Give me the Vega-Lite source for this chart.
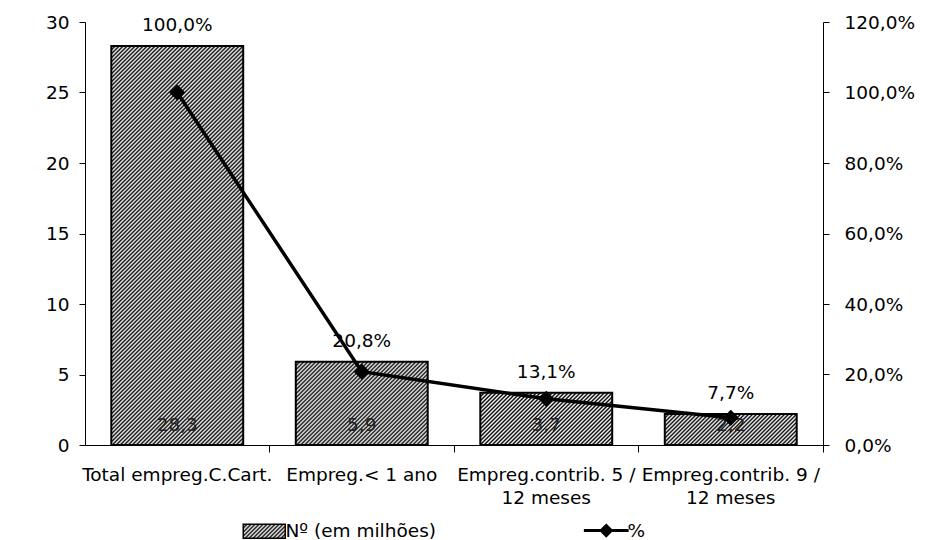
{
"$schema": "https://vega.github.io/schema/vega-lite/v6.json",
"width": 738, "height": 423,
"padding": {"left": 85, "top": 22, "right": 108, "bottom": 95},
"autosize": {"type": "none"},
"background": "white",
"params": [{"name": "hatch", "value": [
{"offset":0,"color":"#000"},{"offset":0.0025,"color":"#fff"},{"offset":0.005,"color":"#000"},{"offset":0.0075,"color":"#fff"},
{"offset":0.01,"color":"#000"},{"offset":0.0125,"color":"#fff"},{"offset":0.015,"color":"#000"},{"offset":0.0175,"color":"#fff"},
{"offset":0.02,"color":"#000"},{"offset":0.0225,"color":"#fff"},{"offset":0.025,"color":"#000"},{"offset":0.0275,"color":"#fff"},
{"offset":0.03,"color":"#000"},{"offset":0.0325,"color":"#fff"},{"offset":0.035,"color":"#000"},{"offset":0.0375,"color":"#fff"},
{"offset":0.04,"color":"#000"},{"offset":0.0425,"color":"#fff"},{"offset":0.045,"color":"#000"},{"offset":0.0475,"color":"#fff"},
{"offset":0.05,"color":"#000"},{"offset":0.0525,"color":"#fff"},{"offset":0.055,"color":"#000"},{"offset":0.0575,"color":"#fff"},
{"offset":0.06,"color":"#000"},{"offset":0.0625,"color":"#fff"},{"offset":0.065,"color":"#000"},{"offset":0.0675,"color":"#fff"},
{"offset":0.07,"color":"#000"},{"offset":0.0725,"color":"#fff"},{"offset":0.075,"color":"#000"},{"offset":0.0775,"color":"#fff"},
{"offset":0.08,"color":"#000"},{"offset":0.0825,"color":"#fff"},{"offset":0.085,"color":"#000"},{"offset":0.0875,"color":"#fff"},
{"offset":0.09,"color":"#000"},{"offset":0.0925,"color":"#fff"},{"offset":0.095,"color":"#000"},{"offset":0.0975,"color":"#fff"},
{"offset":0.1,"color":"#000"},{"offset":0.1025,"color":"#fff"},{"offset":0.105,"color":"#000"},{"offset":0.1075,"color":"#fff"},
{"offset":0.11,"color":"#000"},{"offset":0.1125,"color":"#fff"},{"offset":0.115,"color":"#000"},{"offset":0.1175,"color":"#fff"},
{"offset":0.12,"color":"#000"},{"offset":0.1225,"color":"#fff"},{"offset":0.125,"color":"#000"},{"offset":0.1275,"color":"#fff"},
{"offset":0.13,"color":"#000"},{"offset":0.1325,"color":"#fff"},{"offset":0.135,"color":"#000"},{"offset":0.1375,"color":"#fff"},
{"offset":0.14,"color":"#000"},{"offset":0.1425,"color":"#fff"},{"offset":0.145,"color":"#000"},{"offset":0.1475,"color":"#fff"},
{"offset":0.15,"color":"#000"},{"offset":0.1525,"color":"#fff"},{"offset":0.155,"color":"#000"},{"offset":0.1575,"color":"#fff"},
{"offset":0.16,"color":"#000"},{"offset":0.1625,"color":"#fff"},{"offset":0.165,"color":"#000"},{"offset":0.1675,"color":"#fff"},
{"offset":0.17,"color":"#000"},{"offset":0.1725,"color":"#fff"},{"offset":0.175,"color":"#000"},{"offset":0.1775,"color":"#fff"},
{"offset":0.18,"color":"#000"},{"offset":0.1825,"color":"#fff"},{"offset":0.185,"color":"#000"},{"offset":0.1875,"color":"#fff"},
{"offset":0.19,"color":"#000"},{"offset":0.1925,"color":"#fff"},{"offset":0.195,"color":"#000"},{"offset":0.1975,"color":"#fff"},
{"offset":0.2,"color":"#000"},{"offset":0.2025,"color":"#fff"},{"offset":0.205,"color":"#000"},{"offset":0.2075,"color":"#fff"},
{"offset":0.21,"color":"#000"},{"offset":0.2125,"color":"#fff"},{"offset":0.215,"color":"#000"},{"offset":0.2175,"color":"#fff"},
{"offset":0.22,"color":"#000"},{"offset":0.2225,"color":"#fff"},{"offset":0.225,"color":"#000"},{"offset":0.2275,"color":"#fff"},
{"offset":0.23,"color":"#000"},{"offset":0.2325,"color":"#fff"},{"offset":0.235,"color":"#000"},{"offset":0.2375,"color":"#fff"},
{"offset":0.24,"color":"#000"},{"offset":0.2425,"color":"#fff"},{"offset":0.245,"color":"#000"},{"offset":0.2475,"color":"#fff"},
{"offset":0.25,"color":"#000"},{"offset":0.2525,"color":"#fff"},{"offset":0.255,"color":"#000"},{"offset":0.2575,"color":"#fff"},
{"offset":0.26,"color":"#000"},{"offset":0.2625,"color":"#fff"},{"offset":0.265,"color":"#000"},{"offset":0.2675,"color":"#fff"},
{"offset":0.27,"color":"#000"},{"offset":0.2725,"color":"#fff"},{"offset":0.275,"color":"#000"},{"offset":0.2775,"color":"#fff"},
{"offset":0.28,"color":"#000"},{"offset":0.2825,"color":"#fff"},{"offset":0.285,"color":"#000"},{"offset":0.2875,"color":"#fff"},
{"offset":0.29,"color":"#000"},{"offset":0.2925,"color":"#fff"},{"offset":0.295,"color":"#000"},{"offset":0.2975,"color":"#fff"},
{"offset":0.3,"color":"#000"},{"offset":0.3025,"color":"#fff"},{"offset":0.305,"color":"#000"},{"offset":0.3075,"color":"#fff"},
{"offset":0.31,"color":"#000"},{"offset":0.3125,"color":"#fff"},{"offset":0.315,"color":"#000"},{"offset":0.3175,"color":"#fff"},
{"offset":0.32,"color":"#000"},{"offset":0.3225,"color":"#fff"},{"offset":0.325,"color":"#000"},{"offset":0.3275,"color":"#fff"},
{"offset":0.33,"color":"#000"},{"offset":0.3325,"color":"#fff"},{"offset":0.335,"color":"#000"},{"offset":0.3375,"color":"#fff"},
{"offset":0.34,"color":"#000"},{"offset":0.3425,"color":"#fff"},{"offset":0.345,"color":"#000"},{"offset":0.3475,"color":"#fff"},
{"offset":0.35,"color":"#000"},{"offset":0.3525,"color":"#fff"},{"offset":0.355,"color":"#000"},{"offset":0.3575,"color":"#fff"},
{"offset":0.36,"color":"#000"},{"offset":0.3625,"color":"#fff"},{"offset":0.365,"color":"#000"},{"offset":0.3675,"color":"#fff"},
{"offset":0.37,"color":"#000"},{"offset":0.3725,"color":"#fff"},{"offset":0.375,"color":"#000"},{"offset":0.3775,"color":"#fff"},
{"offset":0.38,"color":"#000"},{"offset":0.3825,"color":"#fff"},{"offset":0.385,"color":"#000"},{"offset":0.3875,"color":"#fff"},
{"offset":0.39,"color":"#000"},{"offset":0.3925,"color":"#fff"},{"offset":0.395,"color":"#000"},{"offset":0.3975,"color":"#fff"},
{"offset":0.4,"color":"#000"},{"offset":0.4025,"color":"#fff"},{"offset":0.405,"color":"#000"},{"offset":0.4075,"color":"#fff"},
{"offset":0.41,"color":"#000"},{"offset":0.4125,"color":"#fff"},{"offset":0.415,"color":"#000"},{"offset":0.4175,"color":"#fff"},
{"offset":0.42,"color":"#000"},{"offset":0.4225,"color":"#fff"},{"offset":0.425,"color":"#000"},{"offset":0.4275,"color":"#fff"},
{"offset":0.43,"color":"#000"},{"offset":0.4325,"color":"#fff"},{"offset":0.435,"color":"#000"},{"offset":0.4375,"color":"#fff"},
{"offset":0.44,"color":"#000"},{"offset":0.4425,"color":"#fff"},{"offset":0.445,"color":"#000"},{"offset":0.4475,"color":"#fff"},
{"offset":0.45,"color":"#000"},{"offset":0.4525,"color":"#fff"},{"offset":0.455,"color":"#000"},{"offset":0.4575,"color":"#fff"},
{"offset":0.46,"color":"#000"},{"offset":0.4625,"color":"#fff"},{"offset":0.465,"color":"#000"},{"offset":0.4675,"color":"#fff"},
{"offset":0.47,"color":"#000"},{"offset":0.4725,"color":"#fff"},{"offset":0.475,"color":"#000"},{"offset":0.4775,"color":"#fff"},
{"offset":0.48,"color":"#000"},{"offset":0.4825,"color":"#fff"},{"offset":0.485,"color":"#000"},{"offset":0.4875,"color":"#fff"},
{"offset":0.49,"color":"#000"},{"offset":0.4925,"color":"#fff"},{"offset":0.495,"color":"#000"},{"offset":0.4975,"color":"#fff"},
{"offset":0.5,"color":"#000"},{"offset":0.5025,"color":"#fff"},{"offset":0.505,"color":"#000"},{"offset":0.5075,"color":"#fff"},
{"offset":0.51,"color":"#000"},{"offset":0.5125,"color":"#fff"},{"offset":0.515,"color":"#000"},{"offset":0.5175,"color":"#fff"},
{"offset":0.52,"color":"#000"},{"offset":0.5225,"color":"#fff"},{"offset":0.525,"color":"#000"},{"offset":0.5275,"color":"#fff"},
{"offset":0.53,"color":"#000"},{"offset":0.5325,"color":"#fff"},{"offset":0.535,"color":"#000"},{"offset":0.5375,"color":"#fff"},
{"offset":0.54,"color":"#000"},{"offset":0.5425,"color":"#fff"},{"offset":0.545,"color":"#000"},{"offset":0.5475,"color":"#fff"},
{"offset":0.55,"color":"#000"},{"offset":0.5525,"color":"#fff"},{"offset":0.555,"color":"#000"},{"offset":0.5575,"color":"#fff"},
{"offset":0.56,"color":"#000"},{"offset":0.5625,"color":"#fff"},{"offset":0.565,"color":"#000"},{"offset":0.5675,"color":"#fff"},
{"offset":0.57,"color":"#000"},{"offset":0.5725,"color":"#fff"},{"offset":0.575,"color":"#000"},{"offset":0.5775,"color":"#fff"},
{"offset":0.58,"color":"#000"},{"offset":0.5825,"color":"#fff"},{"offset":0.585,"color":"#000"},{"offset":0.5875,"color":"#fff"},
{"offset":0.59,"color":"#000"},{"offset":0.5925,"color":"#fff"},{"offset":0.595,"color":"#000"},{"offset":0.5975,"color":"#fff"},
{"offset":0.6,"color":"#000"},{"offset":0.6025,"color":"#fff"},{"offset":0.605,"color":"#000"},{"offset":0.6075,"color":"#fff"},
{"offset":0.61,"color":"#000"},{"offset":0.6125,"color":"#fff"},{"offset":0.615,"color":"#000"},{"offset":0.6175,"color":"#fff"},
{"offset":0.62,"color":"#000"},{"offset":0.6225,"color":"#fff"},{"offset":0.625,"color":"#000"},{"offset":0.6275,"color":"#fff"},
{"offset":0.63,"color":"#000"},{"offset":0.6325,"color":"#fff"},{"offset":0.635,"color":"#000"},{"offset":0.6375,"color":"#fff"},
{"offset":0.64,"color":"#000"},{"offset":0.6425,"color":"#fff"},{"offset":0.645,"color":"#000"},{"offset":0.6475,"color":"#fff"},
{"offset":0.65,"color":"#000"},{"offset":0.6525,"color":"#fff"},{"offset":0.655,"color":"#000"},{"offset":0.6575,"color":"#fff"},
{"offset":0.66,"color":"#000"},{"offset":0.6625,"color":"#fff"},{"offset":0.665,"color":"#000"},{"offset":0.6675,"color":"#fff"},
{"offset":0.67,"color":"#000"}
]}],
"data": {"values": [
{"cat": "Total empreg.C.Cart.", "n": 28.3, "pct": 1.0},
{"cat": "Empreg.< 1 ano", "n": 5.9, "pct": 0.208},
{"cat": "Empreg.contrib. 5 / 12 meses", "n": 3.7, "pct": 0.131},
{"cat": "Empreg.contrib. 9 / 12 meses", "n": 2.2, "pct": 0.077}
]},
"encoding": {
"x": {"field": "cat", "type": "nominal", "sort": null, "title": null,
 "scale": {"paddingInner": 0.285, "paddingOuter": 0.1425},
 "axis": {"labelAngle": 0, "tickSize": 7, "labelPadding": 13, "bandPosition": 1.2, "labelLimit": 400, "labelOverlap": false, "labelLineHeight": 23,
  "labelExpr": "indexof(datum.label, '/') > 0 ? [substring(datum.label, 0, indexof(datum.label, '/') + 1), substring(datum.label, indexof(datum.label, '/') + 2)] : datum.label"}}
},
"layer": [
 {"layer": [
  {"mark": {"type": "bar", "stroke": "#000", "strokeWidth": 2,
    "fill": {"expr": "{gradient:'linear',x1:0,y1:0,x2:131.9*800/(131.9*131.9+pow(datum.n*14.1,2)),y2:datum.n*14.1*800/(131.9*131.9+pow(datum.n*14.1,2)),stops:hatch}"}},
   "encoding": {"y": {"field": "n", "type": "quantitative", "title": null, "scale": {"domain": [0, 30], "nice": false},
     "axis": {"orient": "left", "values": [0, 5, 10, 15, 20, 25, 30], "tickSize": 6, "labelPadding": 10, "format": "d"}}}},
  {"mark": {"type": "text", "baseline": "middle", "dy": -20, "fill": "#222"},
   "encoding": {"y": {"datum": 0, "type": "quantitative", "title": null}, "text": {"field": "n", "format": ".1f"}}},
  {"mark": {"type": "text", "baseline": "middle", "dy": -21, "fill": "#000"},
   "encoding": {"y": {"field": "n", "type": "quantitative", "title": null}, "text": {"field": "pct", "format": ".1%"}}}
 ]},
 {"layer": [
  {"mark": {"type": "line", "color": "#000", "strokeWidth": 3.5},
   "encoding": {"y": {"field": "pct", "type": "quantitative", "title": null, "scale": {"domain": [0, 1.2], "nice": false},
     "axis": {"orient": "right", "values": [0, 0.2, 0.4, 0.6, 0.8, 1, 1.2], "format": ".1%", "tickSize": 6, "labelPadding": 15}}}},
  {"mark": {"type": "point", "shape": "diamond", "filled": true, "color": "#000", "size": 260, "opacity": 1},
   "encoding": {"y": {"field": "pct", "type": "quantitative", "title": null}}},
  {"transform": [{"fold": ["n", "pct"], "as": ["serie", "v"]}],
   "mark": {"type": "point", "filled": true, "stroke": "#000", "strokeWidth": 2},
   "encoding": {
    "opacity": {"value": 0},
    "fill": {"field": "serie", "type": "nominal",
      "scale": {"domain": ["n", "pct"], "range": [{"expr": "{gradient:'linear',x1:0,y1:0,x2:17.143,y2:5.714,stops:hatch}"}, "#000"]},
      "legend": {"title": null, "orient": "none", "legendX": 170, "legendY": 499, "direction": "horizontal", "symbolSize": 784, "symbolStrokeColor": "#000", "symbolStrokeWidth": 2, "symbolOpacity": 1, "labelExpr": "datum.value === 'n' ? 'Nº (em milhões)' : '%'", "labelFont": "DejaVu Sans", "labelFontSize": 18.5, "labelColor": "#000", "labelOffset": 12, "columnPadding": 140, "padding": 0, "labelLimit": 400,
        "encoding": {"symbols": {"stroke": {"value": "#000"}, "strokeWidth": {"value": {"expr": "datum.value === 'pct' ? 3 : 1.5"}}}}}},
    "shape": {"field": "serie", "type": "nominal",
      "scale": {"domain": ["n", "pct"], "range": ["M-1.5,-0.5H1.5V0.5H-1.5Z", "M-1.6,0H1.6M0,-0.36L0.36,0L0,0.36L-0.36,0Z"]},
      "legend": {"title": null, "orient": "none", "legendX": 170, "legendY": 499, "direction": "horizontal", "symbolSize": 784, "symbolStrokeColor": "#000", "symbolStrokeWidth": 2, "symbolOpacity": 1, "labelExpr": "datum.value === 'n' ? 'Nº (em milhões)' : '%'", "labelFont": "DejaVu Sans", "labelFontSize": 18.5, "labelColor": "#000", "labelOffset": 12, "columnPadding": 140, "padding": 0, "labelLimit": 400,
        "encoding": {"symbols": {"stroke": {"value": "#000"}, "strokeWidth": {"value": {"expr": "datum.value === 'pct' ? 3 : 1.5"}}}}}}
   }}
 ]}
],
"resolve": {"scale": {"y": "independent"}},
"config": {
 "view": {"stroke": null},
 "font": "DejaVu Sans",
 "locale": {"number": {"decimal": ",", "thousands": ".", "grouping": [3], "currency": ["", ""]}},
 "axis": {"labelFont": "DejaVu Sans", "labelFontSize": 18.5, "labelColor": "#000", "domainColor": "#000", "tickColor": "#000", "grid": false, "domainWidth": 1, "tickWidth": 1},
 "text": {"font": "DejaVu Sans", "fontSize": 18.5}
}
}
